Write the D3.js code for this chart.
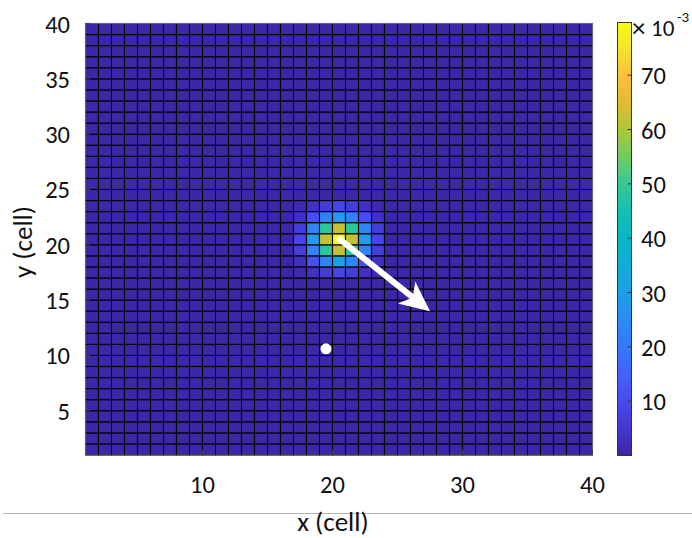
<!DOCTYPE html>
<html>
<head>
<meta charset="utf-8">
<script src="https://cdn.jsdelivr.net/npm/d3@7"></script>
<style>
  html, body { margin: 0; padding: 0; background: #fff; }
  svg { display: block; }
  text { font-family: Carlito, Calibri, Lato, "Open Sans", sans-serif; fill: #111; }
</style>
</head>
<body>
<svg id="chart" width="692" height="538"></svg>
<script>
// ---------------- data ----------------
const xDomain = [1, 40];
const yDomain = [1, 40];
const xTicks = [10, 20, 30, 40];
const yTicks = [5, 10, 15, 20, 25, 30, 35, 40];
const cbTicks = [0.01, 0.02, 0.03, 0.04, 0.05, 0.06, 0.07];
const cbTickLabels = ["10", "20", "30", "40", "50", "60", "70"];
const cbDomain = [0, 0.0797];
const backgroundValue = 0;
// hot spot: lower-left cell (17,17); rows y=17..23 (bottom->top), cols x=17..23
const blobOrigin = [17, 17];
const blobValues = [
  [0.0009, 0.0031, 0.0066, 0.0085, 0.0066, 0.0031, 0.0009],
  [0.0031, 0.0109, 0.0230, 0.0295, 0.0230, 0.0109, 0.0031],
  [0.0066, 0.0230, 0.0485, 0.0622, 0.0485, 0.0230, 0.0066],
  [0.0085, 0.0295, 0.0622, 0.0797, 0.0622, 0.0295, 0.0085],
  [0.0066, 0.0230, 0.0485, 0.0622, 0.0485, 0.0230, 0.0066],
  [0.0031, 0.0109, 0.0230, 0.0295, 0.0230, 0.0109, 0.0031],
  [0.0009, 0.0031, 0.0066, 0.0085, 0.0066, 0.0031, 0.0009]
];
const arrowTail = [20.4, 20.65];
const arrowTip = [27.5, 14.0];
const dotPoint = [19.5, 10.6];
const xLabel = "x (cell)";
const yLabel = "y (cell)";

// parula-like colormap stops
const parula = ["#3e26a8","#4437ce","#484bee","#4661fc","#3579fd","#2b8cf5","#1d9fe7",
  "#12acd7","#06b6c8","#14bfb2","#35c896","#6ecb64","#abc739","#e1bb30","#fdbe3d","#f5e327","#f9fb15"];

// ---------------- layout ----------------
const svg = d3.select("#chart");
const x = d3.scaleLinear().domain(xDomain).range([85.5, 592.5]);
const y = d3.scaleLinear().domain(yDomain).range([455, 23.5]);
const tNorm = d3.scaleLinear().domain(cbDomain).range([0, 1]).clamp(true);
const cmap = d3.scaleLinear()
  .domain(parula.map((_, i) => i / (parula.length - 1)))
  .range(parula).interpolate(d3.interpolateRgb);
const color = v => cmap(tNorm(v));

// build cell table
const cells = [];
for (let j = xDomain[0]; j < xDomain[1]; j++) {
  for (let i = yDomain[0]; i < yDomain[1]; i++) {
    let v = backgroundValue;
    const bx = j - blobOrigin[0], by = i - blobOrigin[1];
    if (by >= 0 && by < blobValues.length && bx >= 0 && bx < blobValues[0].length) v = blobValues[by][bx];
    cells.push({ cx: j, cy: i, v });
  }
}

svg.append("g").selectAll("rect").data(cells).join("rect")
  .attr("x", d => x(d.cx))
  .attr("y", d => y(d.cy + 1))
  .attr("width", d => x(d.cx + 1) - x(d.cx))
  .attr("height", d => y(d.cy) - y(d.cy + 1))
  .attr("fill", d => color(d.v))
  .attr("stroke", "#000")
  .attr("stroke-width", 1.1);

// axes box
svg.append("rect")
  .attr("x", x(xDomain[0])).attr("y", y(yDomain[1]))
  .attr("width", x(xDomain[1]) - x(xDomain[0]))
  .attr("height", y(yDomain[0]) - y(yDomain[1]))
  .attr("fill", "none").attr("stroke", "#666").attr("stroke-width", 1);

// ticks (inside)
svg.append("g").selectAll("line").data(xTicks).join("line")
  .attr("x1", d => x(d)).attr("x2", d => x(d))
  .attr("y1", y(yDomain[0])).attr("y2", y(yDomain[0]) - 5)
  .attr("stroke", "#444");
svg.append("g").selectAll("line").data(yTicks).join("line")
  .attr("x1", x(xDomain[0])).attr("x2", x(xDomain[0]) + 5)
  .attr("y1", d => y(d)).attr("y2", d => y(d))
  .attr("stroke", "#444");

// tick labels
svg.append("g").selectAll("text").data(xTicks).join("text")
  .attr("x", d => x(d)).attr("y", 493)
  .attr("text-anchor", "middle").attr("font-size", 24.5)
  .text(d => d);
svg.append("g").selectAll("text").data(yTicks).join("text")
  .attr("x", 70).attr("y", d => y(d) + 9)
  .attr("text-anchor", "end").attr("font-size", 24.5)
  .text(d => d);

// arrow
const ax0 = x(arrowTail[0]), ay0 = y(arrowTail[1]);
const ax1 = x(arrowTip[0]), ay1 = y(arrowTip[1]);
const dx = ax1 - ax0, dy = ay1 - ay0, len = Math.hypot(dx, dy);
const ux = dx / len, uy = dy / len, px = -uy, py = ux;
const headLen = 30, headHalf = 14, notch = 22;
svg.append("line")
  .attr("x1", ax0).attr("y1", ay0)
  .attr("x2", ax1 - ux * notch).attr("y2", ay1 - uy * notch)
  .attr("stroke", "#fff").attr("stroke-width", 6);
svg.append("path")
  .attr("d", d3.line()([
    [ax1, ay1],
    [ax1 - ux * headLen + px * headHalf, ay1 - uy * headLen + py * headHalf],
    [ax1 - ux * notch, ay1 - uy * notch],
    [ax1 - ux * headLen - px * headHalf, ay1 - uy * headLen - py * headHalf]
  ]) + "Z")
  .attr("fill", "#fff");

// dot
svg.append("circle")
  .attr("cx", x(dotPoint[0])).attr("cy", y(dotPoint[1]))
  .attr("r", 5.5).attr("fill", "#fff");

// colorbar
const cb = d3.scaleLinear().domain(cbDomain).range([455.5, 22.5]);
const defs = svg.append("defs");
const grad = defs.append("linearGradient").attr("id", "cbgrad")
  .attr("x1", 0).attr("y1", 1).attr("x2", 0).attr("y2", 0);
grad.selectAll("stop").data(parula).join("stop")
  .attr("offset", (d, i) => i / (parula.length - 1))
  .attr("stop-color", d => d);
svg.append("rect")
  .attr("x", 617.5).attr("y", cb(cbDomain[1]))
  .attr("width", 14).attr("height", cb(cbDomain[0]) - cb(cbDomain[1]))
  .attr("fill", "url(#cbgrad)").attr("stroke", "#333").attr("stroke-width", 1);
svg.append("g").selectAll("line").data(cbTicks).join("line")
  .attr("x1", 631.5).attr("x2", 627.5)
  .attr("y1", d => cb(d)).attr("y2", d => cb(d))
  .attr("stroke", "#333");
svg.append("g").selectAll("text").data(cbTicks).join("text")
  .attr("x", 641).attr("y", d => cb(d) + 9)
  .attr("font-size", 24.5)
  .text((d, i) => cbTickLabels[i]);
svg.append("text").attr("x", 632).attr("y", 37).attr("font-size", 27).attr("font-weight", 300).text("×");
svg.append("text").attr("x", 651).attr("y", 36).attr("font-size", 23).text("10");
svg.append("text").attr("x", 677).attr("y", 22).attr("font-size", 15).text("-3");

// separator line
svg.append("line").attr("x1", 3).attr("x2", 692).attr("y1", 513.5).attr("y2", 513.5)
  .attr("stroke", "#b5b5b5").attr("stroke-width", 1);

// axis labels
svg.append("text").attr("x", 333).attr("y", 531)
  .attr("text-anchor", "middle").attr("font-size", 27).text(xLabel);
svg.append("text")
  .attr("transform", "translate(32,242) rotate(-90)")
  .attr("text-anchor", "middle").attr("font-size", 27).text(yLabel);
</script>
</body>
</html>
